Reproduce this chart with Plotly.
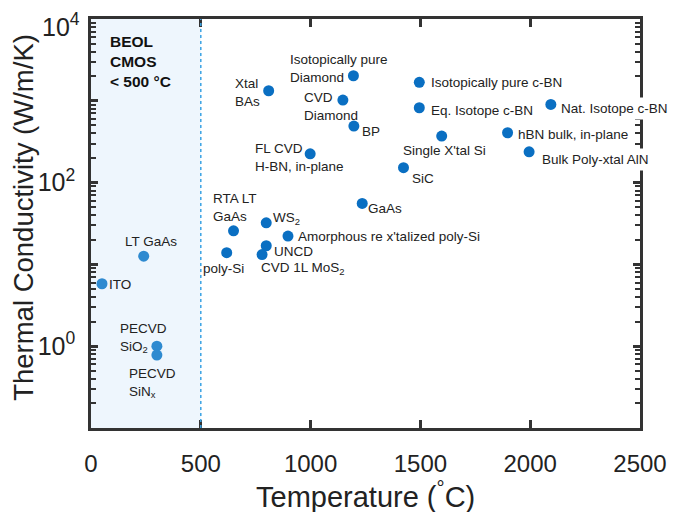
import plotly.graph_objects as go
import math

# ---- data ----
materials = [
    "ITO", "LT GaAs", "PECVD SiO2", "PECVD SiNx",
    "poly-Si", "UNCD", "CVD 1L MoS2", "RTA LT GaAs", "WS2",
    "Amorphous re x'talized poly-Si", "FL CVD H-BN, in-plane", "Xtal BAs",
    "CVD Diamond", "Isotopically pure Diamond", "BP", "Isotopically pure c-BN",
    "Eq. Isotope c-BN", "Nat. Isotope c-BN", "Single X'tal Si", "hBN bulk, in-plane",
    "Bulk Poly-xtal AlN", "SiC", "GaAs",
]
temperature_c = [
    50, 240, 300, 300,
    618, 798, 779, 649, 798,
    897, 998, 809,
    1147, 1195, 1197, 1495,
    1495, 2094, 1597, 1897,
    1995, 1423, 1235,
]
conductivity = [
    5.8, 12.6, 1.0, 0.78,
    13.9, 16.9, 13.2, 25.7, 32.2,
    22.2, 225, 1327,
    1021, 2024, 491, 1683,
    822, 904, 371, 407,
    238, 152, 55.7,
]
beol_limit_c = 500

x_tick_vals = [0, 500, 1000, 1500, 2000, 2500]
y_decades = [0.1, 1, 10, 100, 1000, 10000]
y_decade_text = ["", "10<sup>0</sup>", "", "10<sup>2</sup>", "", ""]
y_top_label = "10<sup>4</sup>"

# ---- label layout (display text, anchor, pixel offsets, align, white box) ----
label_style = {
    "ITO": ("ITO", "left", "middle", 5, -1, "left", False),
    "LT GaAs": ("LT GaAs", "center", "middle", 7, 15, "center", False),
    "PECVD SiO2": ("PECVD<br>SiO<sub>2</sub>", "left", "middle", -39, 8, "left", False),
    "PECVD SiNx": ("PECVD<br>SiN<sub>x</sub>", "left", "middle", -30, -28, "left", False),
    "poly-Si": ("poly-Si", "center", "middle", -3, -16, "center", False),
    "UNCD": ("UNCD", "left", "middle", 6, -6, "left", False),
    "CVD 1L MoS2": ("CVD 1L MoS<sub>2</sub>", "left", "middle", -3, -14, "left", False),
    "RTA LT GaAs": ("RTA LT<br>GaAs", "left", "middle", -23, 23, "left", False),
    "WS2": ("WS<sub>2</sub>", "left", "middle", 5, 4, "left", False),
    "Amorphous re x'talized poly-Si": ("Amorphous re x'talized poly-Si", "left", "middle", 8, 0, "left", False),
    "FL CVD H-BN, in-plane": ("FL CVD<br>H-BN, in-plane", "left", "middle", -57, -4, "left", False),
    "Xtal BAs": ("Xtal<br>BAs", "right", "middle", -7, -2, "left", False),
    "CVD Diamond": ("CVD<br>Diamond", "left", "middle", -41, -6, "left", False),
    "Isotopically pure Diamond": ("Isotopically pure<br>Diamond", "left", "middle", -65, 7, "left", False),
    "BP": ("BP", "left", "middle", 6, -5, "left", False),
    "Isotopically pure c-BN": ("Isotopically pure c-BN", "left", "middle", 10, 0, "left", False),
    "Eq. Isotope c-BN": ("Eq. Isotope c-BN", "left", "middle", 10, -3, "left", False),
    "Nat. Isotope c-BN": ("Nat. Isotope c-BN", "left", "middle", 6, -4, "left", True),
    "Single X'tal Si": ("Single X'tal Si", "center", "middle", 3, -14, "center", False),
    "hBN bulk, in-plane": ("hBN bulk, in-plane", "left", "middle", 6, -2, "left", True),
    "Bulk Poly-xtal AlN": ("Bulk Poly-xtal AlN", "left", "middle", 9, -8, "left", True),
    "SiC": ("SiC", "left", "middle", 7, -11, "left", False),
    "GaAs": ("GaAs", "left", "middle", 4, -5, "left", False),
}

FONT = "Liberation Sans, Arial, sans-serif"
TXT = "#222222"
AX = "#333333"

fig = go.Figure()

# BEOL region
fig.add_shape(type="rect", xref="x", yref="paper", x0=0, x1=beol_limit_c, y0=0, y1=1,
              fillcolor="#eef6fd", line=dict(width=0), layer="below")
fig.add_shape(type="line", xref="x", yref="paper", x0=beol_limit_c, x1=beol_limit_c, y0=0, y1=1,
              line=dict(color="#3aa3e3", width=1.5, dash="dot"), layer="above")

in_idx = [i for i, t in enumerate(temperature_c) if t < beol_limit_c]
out_idx = [i for i, t in enumerate(temperature_c) if t >= beol_limit_c]

for idx, col in ((in_idx, "#2e8ad0"), (out_idx, "#0a6fc2")):
    fig.add_trace(go.Scatter(
        x=[temperature_c[i] for i in idx],
        y=[conductivity[i] for i in idx],
        mode="markers",
        marker=dict(size=11, color=col, line=dict(width=0)),
        text=[materials[i] for i in idx],
        showlegend=False,
    ))

for name, t, k in zip(materials, temperature_c, conductivity):
    txt, xa, ya, dx, dy, al, box = label_style[name]
    fig.add_annotation(
        x=t, y=math.log10(k), xref="x", yref="y",
        text=txt, showarrow=False, xanchor=xa, yanchor=ya,
        xshift=dx, yshift=dy, align=al,
        font=dict(family=FONT, size=13.5, color=TXT),
        bgcolor="white" if box else None,
        borderpad=3 if box else 1,
    )

fig.add_annotation(
    x=0.031, y=0.97, xref="paper", yref="paper",
    text="<b>BEOL<br>CMOS<br>&lt; 500 °C</b>", showarrow=False,
    xanchor="left", yanchor="top", align="left",
    font=dict(family=FONT, size=15.5, color="#111111"),
)

# top decade label, kept inside the figure
fig.add_annotation(
    x=-0.018, y=1.026, xref="paper", yref="paper",
    text=y_top_label, showarrow=False, xanchor="right", yanchor="top",
    font=dict(family=FONT, size=25, color=TXT), borderpad=0,
)

# axis titles as paper annotations (fixed positions)
fig.add_annotation(
    x=0.5, y=-0.163, xref="paper", yref="paper",
    text="Temperature (<sup>°</sup>C)", showarrow=False,
    xanchor="center", yanchor="middle",
    font=dict(family=FONT, size=29, color=TXT),
)
fig.add_annotation(
    x=-0.123, y=0.515, xref="paper", yref="paper",
    text="Thermal Conductivity (W/m/K)", showarrow=False, textangle=-90,
    xanchor="center", yanchor="middle",
    font=dict(family=FONT, size=27.5, color=TXT),
)

minor_vals = [m * d for d in [0.1, 1, 10, 100, 1000] for m in range(2, 10)]

fig.update_xaxes(
    range=[0, 2500], tickvals=x_tick_vals, automargin=False,
    ticks="inside", ticklen=8, tickwidth=2.5, tickcolor=AX,
    showline=True, linewidth=2.5, linecolor=AX, mirror="ticks",
    showgrid=False, zeroline=False,
    tickfont=dict(family=FONT, size=24, color=TXT),
    ticklabelstandoff=12, ticklabeloverflow="allow",
)
fig.update_yaxes(
    type="log", range=[-1, 4], automargin=False,
    tickvals=y_decades, ticktext=y_decade_text,
    ticks="inside", ticklen=7, tickwidth=2.5, tickcolor=AX,
    minor=dict(tickvals=minor_vals, ticks="inside", ticklen=5, tickwidth=2, tickcolor=AX),
    showline=True, linewidth=2.5, linecolor=AX, mirror="ticks",
    showgrid=False, zeroline=False,
    tickfont=dict(family=FONT, size=25, color=TXT),
    ticklabelstandoff=8, ticklabeloverflow="allow",
)

fig.update_layout(
    width=669, height=504,
    margin=dict(l=83, r=37, t=11, b=84),
    paper_bgcolor="white", plot_bgcolor="white",
    showlegend=False,
)

fig.write_html("out.html")
